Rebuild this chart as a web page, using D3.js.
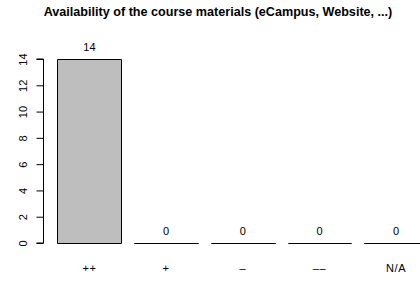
<!DOCTYPE html>
<html>
<head>
<meta charset="utf-8">
<script src="https://cdn.jsdelivr.net/npm/d3@7"></script>
<style>
  body { margin: 0; background: #fff; }
  svg text { font-family: "Liberation Sans", Arial, sans-serif; }
</style>
</head>
<body>
<div id="chart"></div>
<script>
// Dados do grafico
const categories = ['++', '+', '\u2013', '\u2013\u2013', 'N/A'];
const counts = [14, 0, 0, 0, 0];
const yTicks = [0, 2, 4, 6, 8, 10, 12, 14];
const title = 'Availability of the course materials (eCampus, Website, ...)';

const width = 420, height = 281;

const svg = d3.select('#chart')
    .append('svg')
    .attr('width', width)
    .attr('height', height);

// Escalas em unidades do barplot (largura 1, espaco 0.2)
const x = d3.scaleLinear().domain([0, 6.2]).range([44.7, 44.7 + 6.2 * 63.9]);
const y = d3.scaleLinear().domain([0, 14]).range([243, 59]);

const barLeft = i => 0.2 + 1.2 * i;

// Titulo
svg.append('text')
    .attr('x', 218)
    .attr('y', 16)
    .attr('text-anchor', 'middle')
    .attr('font-size', '12.6px')
    .attr('font-weight', 'bold')
    .text(title);

// Barras (path para que barras de altura zero aparecam como linha)
svg.selectAll('path.bar')
    .data(counts)
    .enter()
    .append('path')
    .attr('class', 'bar')
    .attr('d', (d, i) => {
        const x0 = Math.round(x(barLeft(i))) + 0.5;
        const x1 = Math.round(x(barLeft(i) + 1)) + 0.5;
        const y0 = Math.round(y(0)) + 0.5;
        const y1 = Math.round(y(d)) + 0.5;
        return `M${x0},${y0}H${x1}V${y1}H${x0}Z`;
    })
    .attr('fill', '#bebebe')
    .attr('stroke', '#000')
    .attr('stroke-width', 1);

// Valores acima das barras
svg.selectAll('text.val')
    .data(counts)
    .enter()
    .append('text')
    .attr('class', 'val')
    .attr('x', (d, i) => x(barLeft(i) + 0.5))
    .attr('y', d => y(d) - 8.5)
    .attr('text-anchor', 'middle')
    .attr('font-size', '11px')
    .text(d => d);

// Rotulos das categorias
svg.selectAll('text.cat')
    .data(categories)
    .enter()
    .append('text')
    .attr('class', 'cat')
    .attr('x', (d, i) => x(barLeft(i) + 0.5))
    .attr('y', 271.5)
    .attr('text-anchor', 'middle')
    .attr('font-size', '11px')
    .attr('letter-spacing', '0.6px')
    .text(d => d);

// Eixo Y
const yAxis = d3.axisLeft(y)
    .tickValues(yTicks)
    .tickSize(7)
    .tickPadding(5);

const gy = svg.append('g')
    .attr('transform', 'translate(43.5,0)')
    .call(yAxis);

gy.select('.domain')
    .attr('d', `M-7,${y(0)}H0V${y(14)}H-7`)
    .attr('stroke', '#000');
gy.selectAll('.tick line').remove();
gy.selectAll('.tick')
    .append('line')
    .attr('x1', -7)
    .attr('x2', 0)
    .attr('stroke', '#000');
gy.selectAll('.tick text')
    .attr('font-size', '11px')
    .attr('font-family', '"Liberation Sans", Arial, sans-serif')
    .attr('fill', '#000')
    .attr('text-anchor', 'middle')
    .attr('transform', 'rotate(-90)')
    .attr('x', 0)
    .attr('y', -17)
    .attr('dy', '0');
</script>
</body>
</html>
